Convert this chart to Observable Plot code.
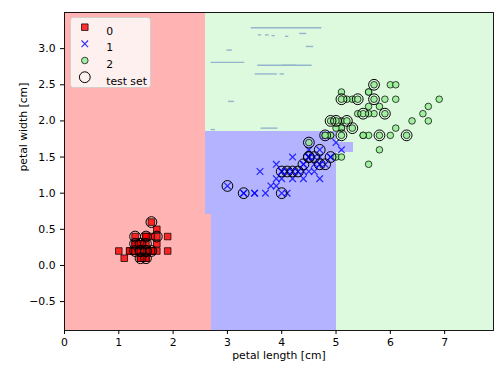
<!DOCTYPE html>
<html><head><meta charset="utf-8">
<script src="https://cdn.jsdelivr.net/npm/d3@7"></script>
<script src="https://cdn.jsdelivr.net/npm/@observablehq/plot@0.6"></script>
<style>body{margin:0;background:#fff;}</style>
</head><body><div id="chart"></div>
<script>
// ---- data (iris petal length / width, per class) ----
const class0Len = [1.4,1.4,1.3,1.5,1.4,1.7,1.4,1.5,1.4,1.5,1.5,1.6,1.4,1.1,1.2,1.5,1.3,1.4,1.7,1.5,1.7,1.5,1.0,1.7,1.9,1.6,1.6,1.5,1.4,1.6,1.6,1.5,1.5,1.4,1.5,1.2,1.3,1.4,1.3,1.5,1.3,1.3,1.3,1.6,1.9,1.4,1.6,1.4,1.5,1.4];
const class0Wid = [0.2,0.2,0.2,0.2,0.2,0.4,0.3,0.2,0.2,0.1,0.2,0.2,0.1,0.1,0.2,0.4,0.4,0.3,0.3,0.3,0.2,0.4,0.2,0.5,0.2,0.2,0.4,0.2,0.2,0.2,0.2,0.4,0.1,0.2,0.2,0.2,0.2,0.1,0.2,0.2,0.3,0.3,0.2,0.6,0.4,0.3,0.2,0.2,0.2,0.2];
const class1Len = [4.7,4.5,4.9,4.0,4.6,4.5,4.7,3.3,4.6,3.9,3.5,4.2,4.0,4.7,3.6,4.4,4.5,4.1,4.5,3.9,4.8,4.0,4.9,4.7,4.3,4.4,4.8,5.0,4.5,3.5,3.8,3.7,3.9,5.1,4.5,4.5,4.7,4.4,4.1,4.0,4.4,4.6,4.0,3.3,4.2,4.2,4.2,4.3,3.0,4.1];
const class1Wid = [1.4,1.5,1.5,1.3,1.5,1.3,1.6,1.0,1.3,1.4,1.0,1.5,1.0,1.4,1.3,1.4,1.5,1.0,1.5,1.1,1.8,1.3,1.5,1.2,1.3,1.4,1.4,1.7,1.5,1.0,1.1,1.0,1.2,1.6,1.5,1.6,1.5,1.3,1.3,1.3,1.2,1.4,1.2,1.0,1.3,1.2,1.3,1.3,1.1,1.3];
const class2Len = [6.0,5.1,5.9,5.6,5.8,6.6,4.5,6.3,5.8,6.1,5.1,5.3,5.5,5.0,5.1,5.3,5.5,6.7,6.9,5.0,5.7,4.9,6.7,4.9,5.7,6.0,4.8,4.9,5.6,5.8,6.1,6.4,5.6,5.1,5.6,6.1,5.6,5.5,4.8,5.4,5.6,5.1,5.1,5.9,5.7,5.2,5.0,5.2,5.4,5.1];
const class2Wid = [2.5,1.9,2.1,1.8,2.2,2.1,1.7,1.8,1.8,2.5,2.0,1.9,2.1,2.0,2.4,2.3,1.8,2.2,2.3,1.5,2.3,2.0,2.0,1.8,2.1,1.8,1.8,1.8,2.1,1.6,1.9,2.0,2.2,1.5,1.4,2.3,2.4,1.8,1.8,2.1,2.4,2.3,1.9,2.3,2.5,2.3,1.9,2.0,2.3,1.8];
const testLen = [1.6,1.3,1.5,1.7,1.4,1.5,1.4,1.5,1.6,1.3,1.4,1.5,1.4,1.5,1.3, 3.0,3.3,4.0,4.0,4.1,4.2,4.4,4.5,4.6,4.7,4.7,4.8,4.3,4.5,4.9, 5.7,5.1,5.7,5.5,5.9,4.9,5.0,5.2,5.3,5.8,6.3,4.8,5.1,4.5,5.4];
const testWid = [0.6,0.4,0.4,0.4,0.3,0.3,0.2,0.2,0.2,0.2,0.1,0.1,0.2,0.2,0.3, 1.1,1.0,1.0,1.3,1.3,1.3,1.4,1.5,1.5,1.6,1.4,1.4,1.3,1.5,1.5, 2.5,2.3,2.3,2.1,2.1,2.0,2.0,2.0,1.9,1.8,1.8,1.8,1.8,1.7,2.3];

// decision regions (predicted class rectangles, in data units)
const regionClass = [2, 0, 0, 1, 1, 1];
const regionX1 = [0, 0, 0, 2.59, 2.71, 5.0];
const regionX2 = [7.9, 2.59, 2.71, 5.0, 5.0, 5.33];
const regionY1 = [-0.9, 0.71, -0.9, 0.71, -0.9, 1.56];
const regionY2 = [3.5, 3.5, 0.71, 1.85, 0.71, 1.7];
// thin class-1 slivers inside the class-2 region
const sliverX1 = [3.44, 3.57, 3.70, 3.82, 4.07, 4.33, 2.99, 4.45, 2.70, 3.56, 3.51, 3.97, 3.02, 2.70, 3.62, 4.01];
const sliverX2 = [4.74, 3.63, 3.77, 3.88, 4.13, 4.46, 3.09, 4.59, 3.32, 4.56, 3.92, 4.05, 3.13, 2.78, 3.93, 4.27];
const sliverY  = [3.29, 3.19, 3.19, 3.18, 3.17, 3.21, 2.98, 3.03, 2.81, 2.77, 2.65, 2.65, 2.27, 1.88, 1.90, 2.77];

const xTicks = [0,1,2,3,4,5,6,7];
const yTicks = [-0.5,0,0.5,1,1.5,2,2.5,3];
const legendLabels = ["0","1","2","test set"];
const xLabel = "petal length [cm]";
const yLabel = "petal width [cm]";

// ---- build tables ----
const classColors = ["red","blue","lightgreen"];
const tint = c => d3.interpolateRgb("white", c)(0.3);
const mk = (L, W) => L.map((v,i)=>({x:v, y:W[i]}));
const pts0 = mk(class0Len, class0Wid), pts1 = mk(class1Len, class1Wid), pts2 = mk(class2Len, class2Wid);
const test = mk(testLen, testWid);
const regions = regionClass.map((c,i)=>({cls:c, x1:regionX1[i], x2:regionX2[i], y1:regionY1[i], y2:regionY2[i]}));
const slivers = sliverY.map((y,i)=>({x1:sliverX1[i], x2:sliverX2[i], y}));

const FS = 10.8;
const legendRow = [14.7, 31.3, 48, 64.7];

const chart = Plot.plot({
  width: 502, height: 369,
  marginLeft: 64, marginRight: 9, marginTop: 12, marginBottom: 39,
  x: {domain: [0, 7.9]},
  y: {domain: [-0.9, 3.5]},
  style: {fontFamily: "DejaVu Sans", fontSize: FS + "px", color: "black", background: "white"},
  marks: [
    Plot.rect(regions, {x1:"x1", x2:"x2", y1:"y1", y2:"y2", fill: d => tint(classColors[d.cls]), shapeRendering: "crispEdges"}),
    Plot.ruleY(slivers, {x1:"x1", x2:"x2", y:"y", stroke:"#93b6cc", strokeWidth: 1.4}),
    Plot.dot(pts0, {x:"x", y:"y", symbol:"square", r:3.7, fill:"red", fillOpacity:0.8, stroke:"black", strokeOpacity:0.8, strokeWidth:0.9}),
    Plot.dot(pts1, {x:"x", y:"y", symbol:"times", r:3.1, stroke:"blue", strokeOpacity:0.8, strokeWidth:1.2}),
    Plot.dot(pts2, {x:"x", y:"y", symbol:"circle", r:3.3, fill:"lightgreen", fillOpacity:0.8, stroke:"black", strokeOpacity:0.8, strokeWidth:0.9}),
    Plot.dot(test, {x:"x", y:"y", symbol:"circle", r:5.4, fill:"none", stroke:"black", strokeWidth:1}),
    Plot.frame({stroke:"black", strokeWidth:0.9}),
    Plot.axisX({ticks: xTicks, tickSize: 4, tickPadding: 4, label: null, tickFormat: d => String(d)}),
    Plot.axisY({ticks: yTicks, tickSize: 4, tickPadding: 5, label: null, tickFormat: d3.format(".1f")}),
    Plot.text([xLabel], {frameAnchor:"bottom", dy: 28.5, text: d => d, fontSize: FS}),
    Plot.text([yLabel], {frameAnchor:"left", dx: -41, rotate: -90, text: d => d, fontSize: FS}),
    // legend
    Plot.frame({fill:"white", fillOpacity:0.8, stroke:"#cccccc", strokeWidth:0.8, rx:3, insetLeft:6, insetTop:5, insetRight:343, insetBottom:243}),
    Plot.dot([legendLabels[0]], {frameAnchor:"top-left", dx:20.3, dy:legendRow[0], symbol:"square", r:3.7, fill:"red", fillOpacity:0.8, stroke:"black", strokeOpacity:0.8, strokeWidth:0.9}),
    Plot.dot([legendLabels[1]], {frameAnchor:"top-left", dx:20.3, dy:legendRow[1], symbol:"times", r:3.1, stroke:"blue", strokeOpacity:0.8, strokeWidth:1.2}),
    Plot.dot([legendLabels[2]], {frameAnchor:"top-left", dx:20.3, dy:legendRow[2], symbol:"circle", r:3.3, fill:"lightgreen", fillOpacity:0.8, stroke:"black", strokeOpacity:0.8, strokeWidth:0.9}),
    Plot.dot([legendLabels[3]], {frameAnchor:"top-left", dx:20.3, dy:legendRow[3], symbol:"circle", r:5.4, fill:"none", stroke:"black", strokeWidth:1}),
    ...legendLabels.map((t,i) => Plot.text([t], {frameAnchor:"top-left", dx:41.7, dy:legendRow[i], text: d => d, textAnchor:"start", fontSize: FS}))
  ]
});
document.getElementById("chart").appendChild(chart);
</script>
</body></html>
